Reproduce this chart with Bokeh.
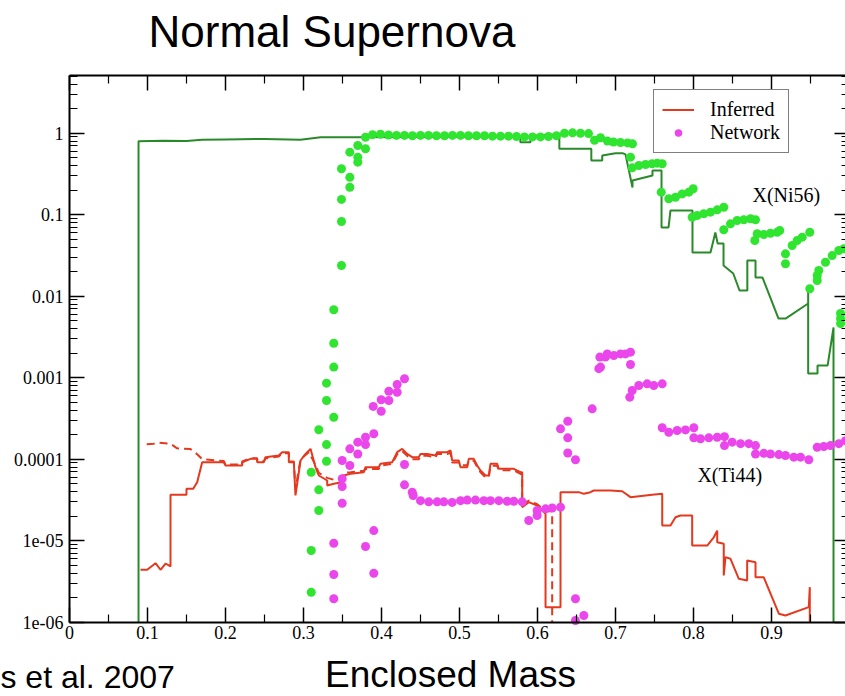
import json
from bokeh.plotting import figure
from bokeh.models import (FixedTicker, LinearAxis, LogAxis, Label, Legend, LegendItem,
                          CustomJSTickFormatter, Range1d)
from bokeh.embed import file_html
from bokeh.resources import INLINE

# ---------------- data ----------------
x_ticks = [0.0, 0.1, 0.2, 0.3, 0.4, 0.5, 0.6, 0.7, 0.8, 0.9]
x_tick_labels = ["0", "0.1", "0.2", "0.3", "0.4", "0.5", "0.6", "0.7", "0.8", "0.9"]
y_ticks = [1.0, 0.1, 0.01, 0.001, 0.0001, 1e-05, 1e-06]
y_tick_labels = ["1", "0.1", "0.01", "0.001", "0.0001", "1e-05", "1e-06"]

# Inferred X(Ni56) (dark green step line)
ni_inferred = [
    (0.0885, 1e-6), (0.0885, 0.798), (0.12, 0.81), (0.15, 0.80), (0.17, 0.83), (0.20, 0.84),
    (0.25, 0.85), (0.296, 0.83), (0.322, 0.89), (0.367, 0.89), (0.45, 0.90), (0.55, 0.91),
    (0.578, 0.90), (0.578, 0.776), (0.591, 0.776), (0.591, 0.93), (0.628, 0.964), (0.628, 0.644),
    (0.669, 0.644), (0.669, 0.462), (0.683, 0.462), (0.683, 0.532), (0.700, 0.569), (0.709, 0.569),
    (0.7128, 0.55), (0.7218, 0.216), (0.7218, 0.263), (0.7474, 0.303), (0.7474, 0.348),
    (0.759, 0.348), (0.759, 0.0697), (0.768, 0.0697), (0.7705, 0.1127), (0.7987, 0.1127),
    (0.7987, 0.0343), (0.8218, 0.0343), (0.828, 0.0605), (0.831, 0.0444), (0.8385, 0.0444),
    (0.8385, 0.0238), (0.851, 0.0190), (0.859, 0.01175), (0.869, 0.01175), (0.869, 0.0274),
    (0.8795, 0.0274), (0.8795, 0.01694), (0.8885, 0.01694), (0.909, 0.00532), (0.918, 0.00532),
    (0.947, 0.00813), (0.947, 0.0128), (0.947, 0.001128), (0.959, 0.001128), (0.959, 0.001413),
    (0.972, 0.001413), (0.9795, 0.00413), (0.9795, 1e-6),
]

# Network X(Ni56) (bright green dots)
ni_network = [
    (0.3099, 2.33e-6), (0.3099, 7.59e-6), (0.3099, 6.92e-5), (0.3196, 2.35e-5), (0.3196, 4.21e-5),
    (0.3196, 2.30e-4), (0.3295, 9.44e-5), (0.3295, 1.51e-4), (0.3295, 5.25e-4), (0.3295, 8.57e-4),
    (0.3388, 3.27e-4), (0.3388, 1.35e-3), (0.3388, 2.65e-3), (0.3388, 6.81e-3), (0.3487, 0.0238),
    (0.3487, 0.0826), (0.3487, 0.154), (0.3487, 0.366), (0.3594, 0.217), (0.3594, 0.288),
    (0.3594, 0.585), (0.3696, 0.441), (0.3696, 0.508), (0.3696, 0.706), (0.3795, 0.644),
    (0.3795, 0.893), (0.3885, 0.96), (0.3987, 0.97), (0.4090, 0.95), (0.4192, 0.94), (0.4295, 0.94),
    (0.4397, 0.93), (0.4500, 0.94), (0.4603, 0.94), (0.4705, 0.93), (0.4808, 0.93), (0.4910, 0.94),
    (0.5013, 0.94), (0.5115, 0.93), (0.5218, 0.93), (0.5321, 0.93), (0.5423, 0.92), (0.5526, 0.92),
    (0.5628, 0.92), (0.5731, 0.91), (0.5833, 0.90), (0.5936, 0.90), (0.6038, 0.90), (0.6141, 0.91),
    (0.6244, 0.93), (0.6346, 1.00), (0.6449, 1.01), (0.6551, 1.00), (0.6654, 0.99), (0.6731, 0.82),
    (0.6808, 0.88), (0.6897, 0.80), (0.6974, 0.78), (0.7064, 0.77), (0.7154, 0.76), (0.7218, 0.74),
    (0.7192, 0.508), (0.7214, 0.376), (0.7299, 0.402), (0.7385, 0.413), (0.7470, 0.422),
    (0.7535, 0.429), (0.7599, 0.422), (0.7586, 0.189), (0.7683, 0.157), (0.7769, 0.164),
    (0.7855, 0.180), (0.7940, 0.189), (0.7996, 0.208), (0.7983, 0.0931), (0.8047, 0.0977),
    (0.8132, 0.1026), (0.8218, 0.1074), (0.8304, 0.1148), (0.8388, 0.1236), (0.8388, 0.0653),
    (0.8474, 0.0773), (0.8560, 0.0849), (0.8645, 0.0866), (0.8731, 0.0891), (0.8795, 0.0866),
    (0.8786, 0.0482), (0.8817, 0.0583), (0.8901, 0.0571), (0.8987, 0.0593), (0.9073, 0.0610),
    (0.9106, 0.0640), (0.9179, 0.0250), (0.9179, 0.0331), (0.9265, 0.0419), (0.9329, 0.0482),
    (0.9394, 0.0530), (0.9491, 0.0610), (0.9491, 0.01233), (0.9586, 0.01795), (0.9586, 0.0156),
    (0.9606, 0.0207), (0.9692, 0.0261), (0.9778, 0.0315), (0.9863, 0.0364), (0.9927, 0.0382),
    (0.9885, 0.00614), (0.9885, 0.00532), (0.9885, 0.00462),
]

# Inferred X(Ti44) (red solid step line)
ti_inferred = [
    (0.0910, 4.40e-6), (0.0996, 4.40e-6), (0.1103, 5.30e-6), (0.1167, 4.40e-6), (0.1231, 5.25e-6),
    (0.1295, 4.83e-6), (0.1295, 3.66e-5), (0.1500, 3.66e-5), (0.1500, 4.34e-5), (0.1586, 4.34e-5),
    (0.1637, 5.22e-5), (0.1701, 9.18e-5), (0.1978, 9.18e-5), (0.2000, 8.37e-5), (0.2214, 8.37e-5),
    (0.2214, 9.18e-5), (0.2321, 1.01e-4), (0.2406, 1.01e-4), (0.2406, 9.18e-5), (0.2491, 9.18e-5),
    (0.2513, 1.06e-4), (0.2683, 1.11e-4), (0.2727, 1.22e-4), (0.2812, 1.22e-4), (0.2812, 9.18e-5),
    (0.2876, 9.18e-5), (0.2897, 3.59e-5), (0.2962, 9.64e-5), (0.3026, 1.16e-4), (0.3090, 1.34e-4),
    (0.3154, 7.98e-5), (0.3196, 6.31e-5), (0.3304, 5.48e-5), (0.3304, 4.76e-5), (0.3388, 4.99e-5),
    (0.3496, 5.22e-5), (0.3517, 6.31e-5), (0.3603, 6.62e-5), (0.3773, 6.92e-5), (0.3795, 7.98e-5),
    (0.3965, 7.98e-5), (0.3987, 8.78e-5), (0.4137, 9.18e-5), (0.4201, 1.22e-4), (0.4265, 1.34e-4),
    (0.4329, 1.16e-4), (0.4394, 1.06e-4), (0.4478, 1.06e-4), (0.4500, 1.16e-4), (0.4586, 1.16e-4),
    (0.4692, 1.11e-4), (0.4714, 1.22e-4), (0.4842, 1.22e-4), (0.4885, 1.28e-4), (0.4906, 9.64e-5),
    (0.4991, 9.64e-5), (0.5013, 7.98e-5), (0.5099, 7.98e-5), (0.5119, 1.01e-4), (0.5183, 1.01e-4),
    (0.5227, 8.37e-5), (0.5269, 7.26e-5), (0.5333, 6.31e-5), (0.5376, 6.31e-5), (0.5397, 8.78e-5),
    (0.5483, 8.78e-5), (0.5504, 7.62e-5), (0.5696, 7.62e-5), (0.5782, 6.92e-5), (0.5804, 6.92e-5),
    (0.5804, 2.58e-5), (0.5888, 2.97e-5), (0.5996, 2.70e-5), (0.6103, 2.14e-5), (0.6103, 1.53e-6),
    (0.6295, 1.53e-6), (0.6295, 3.94e-5), (0.6530, 3.94e-5), (0.6594, 3.76e-5), (0.6679, 3.94e-5),
    (0.6722, 4.13e-5), (0.6936, 4.13e-5), (0.7086, 4.05e-5), (0.7192, 3.42e-5), (0.7470, 3.66e-5),
    (0.7599, 3.76e-5), (0.7599, 1.54e-5), (0.7705, 1.54e-5), (0.7769, 1.94e-5), (0.7833, 2.04e-5),
    (0.7983, 2.04e-5), (0.7983, 8.73e-6), (0.8176, 8.73e-6), (0.8260, 1.10e-5), (0.8304, 1.33e-5),
    (0.8304, 9.59e-6), (0.8388, 9.16e-6), (0.8388, 3.74e-6), (0.8410, 6.28e-6), (0.8474, 6.00e-6),
    (0.8581, 3.41e-6), (0.8688, 3.25e-6), (0.8688, 5.71e-6), (0.8795, 5.45e-6), (0.8795, 3.56e-6),
    (0.8901, 3.56e-6), (0.9094, 1.27e-6), (0.9179, 1.21e-6), (0.9478, 1.53e-6), (0.9491, 2.69e-6),
    (0.9491, 1e-6),
]

# Second inferred X(Ti44) curve (red dashed)
ti_inferred_alt = [
    (0.0990, 1.53e-4), (0.1077, 1.55e-4), (0.1141, 1.60e-4), (0.1295, 1.55e-4), (0.1380, 1.36e-4),
    (0.1551, 1.33e-4), (0.1637, 1.15e-4), (0.1701, 1.00e-4), (0.1978, 9.5e-5), (0.2000, 8.6e-5),
    (0.2214, 8.6e-5), (0.2214, 9.4e-5), (0.2321, 1.03e-4), (0.2406, 1.03e-4), (0.2406, 9.4e-5),
    (0.2491, 9.4e-5), (0.2513, 1.02e-4), (0.2683, 1.08e-4), (0.2727, 1.18e-4), (0.2812, 1.18e-4),
    (0.2812, 9.4e-5), (0.2876, 9.4e-5), (0.2897, 4.3e-5), (0.2962, 1.00e-4), (0.3068, 1.22e-4),
    (0.3154, 8.5e-5), (0.3196, 6.8e-5), (0.3304, 5.9e-5), (0.3388, 5.6e-5), (0.3496, 5.8e-5),
    (0.3517, 6.8e-5), (0.3603, 6.9e-5), (0.3773, 7.2e-5), (0.3795, 7.6e-5), (0.3965, 7.6e-5),
    (0.3987, 8.3e-5), (0.4137, 8.8e-5), (0.4201, 1.15e-4), (0.4265, 1.26e-4), (0.4329, 1.10e-4),
    (0.4394, 1.00e-4), (0.4478, 1.00e-4), (0.4500, 1.10e-4), (0.4586, 1.10e-4), (0.4692, 1.05e-4),
    (0.4714, 1.16e-4), (0.4842, 1.16e-4), (0.4885, 1.20e-4), (0.4906, 9.1e-5), (0.4991, 9.1e-5),
    (0.5013, 8.4e-5), (0.5099, 8.4e-5), (0.5119, 9.6e-5), (0.5183, 9.6e-5), (0.5227, 8.0e-5),
    (0.5269, 6.9e-5), (0.5333, 6.0e-5), (0.5376, 6.0e-5), (0.5397, 8.3e-5), (0.5483, 8.3e-5),
    (0.5504, 7.3e-5), (0.5696, 7.3e-5), (0.5782, 6.6e-5), (0.5804, 6.6e-5), (0.5804, 2.75e-5),
    (0.5888, 3.1e-5), (0.5996, 2.8e-5), (0.6103, 2.3e-5), (0.6188, 2.3e-5), (0.6188, 1e-6),
]

# Network X(Ti44) (magenta dots)
ti_network = [
    (0.3388, 9.31e-6), (0.3388, 3.85e-6), (0.3388, 1.94e-6), (0.3496, 9.64e-5), (0.3496, 5.75e-5),
    (0.3496, 4.62e-5), (0.3496, 2.88e-5), (0.3594, 1.34e-4), (0.3594, 8.37e-5), (0.3696, 1.62e-4),
    (0.3696, 1.16e-4), (0.3795, 1.86e-4), (0.3795, 1.51e-4), (0.3795, 8.49e-6), (0.3901, 2.05e-4),
    (0.3901, 1.33e-5), (0.3901, 3.99e-6), (0.3894, 4.44e-4), (0.3996, 5.36e-4), (0.3996, 3.88e-4),
    (0.4094, 6.82e-4), (0.4094, 5.25e-4), (0.4201, 8.26e-4), (0.4201, 6.64e-4), (0.4295, 9.70e-4),
    (0.4295, 8.61e-5), (0.4295, 4.85e-5), (0.4394, 3.94e-5), (0.4406, 3.59e-5), (0.4500, 3.1e-5),
    (0.4606, 3.0e-5), (0.4714, 3.0e-5), (0.4799, 3.0e-5), (0.4906, 2.95e-5), (0.5013, 3.1e-5),
    (0.5099, 3.15e-5), (0.5205, 3.15e-5), (0.5312, 3.1e-5), (0.5397, 3.1e-5), (0.5504, 3.1e-5),
    (0.5611, 3.05e-5), (0.5696, 3.05e-5), (0.5804, 3.0e-5), (0.5888, 1.77e-5), (0.5996, 2.04e-5),
    (0.5996, 2.35e-5), (0.6103, 2.46e-5), (0.6188, 2.52e-5), (0.6295, 2.58e-5), (0.6295, 2.36e-4),
    (0.6388, 2.92e-4), (0.6388, 1.83e-4), (0.6388, 1.19e-4), (0.6487, 9.84e-5), (0.6487, 1.94e-6),
    (0.6487, 1.05e-6), (0.6594, 1.21e-6), (0.6701, 4.15e-4), (0.6786, 1.29e-3), (0.6799, 1.79e-3),
    (0.6808, 1.35e-3), (0.6872, 1.79e-3), (0.6894, 1.96e-3), (0.6978, 1.87e-3), (0.7064, 1.96e-3),
    (0.7128, 1.96e-3), (0.7192, 2.06e-3), (0.7192, 1.45e-3), (0.7183, 5.77e-4), (0.7214, 6.97e-4),
    (0.7299, 8.02e-4), (0.7406, 8.41e-4), (0.7491, 8.02e-4), (0.7599, 8.41e-4), (0.7599, 2.43e-4),
    (0.7683, 2.14e-4), (0.7791, 2.25e-4), (0.7897, 2.29e-4), (0.8004, 2.43e-4), (0.8004, 1.83e-4),
    (0.8090, 1.78e-4), (0.8196, 1.83e-4), (0.8304, 1.86e-4), (0.8397, 1.89e-4), (0.8397, 1.47e-4),
    (0.8496, 1.62e-4), (0.8603, 1.55e-4), (0.8709, 1.55e-4), (0.8795, 1.47e-4), (0.8795, 1.16e-4),
    (0.8901, 1.18e-4), (0.8987, 1.16e-4), (0.9094, 1.14e-4), (0.9179, 1.11e-4), (0.9286, 1.06e-4),
    (0.9372, 1.06e-4), (0.9478, 9.84e-5), (0.9586, 1.40e-4), (0.9671, 1.43e-4), (0.9756, 1.47e-4),
    (0.9863, 1.55e-4), (0.9949, 1.69e-4),
]

# ---------------- styling ----------------
GREEN_LINE = "#2a8a2a"
GREEN_DOT = "#2fe52f"
RED = "#e5391f"
MAGENTA = "#eb46eb"
SERIF = "Liberation Serif"
SANS = "Liberation Sans"

X_LO, X_HI = 0.0, 1.0          # axis box in data units
Y_LO, Y_HI = 1e-6, 5.1


def xs(pts):
    return [p[0] for p in pts]


def ys(pts):
    return [p[1] for p in pts]


# The frame spans the whole canvas; the axes are pinned (fixed_location) to the
# data box so that the title and bottom texts can sit inside the frame.
p = figure(width=845, height=696, x_range=Range1d(-0.08846, 0.99487),
           y_range=Range1d(1.2255e-7, 42.5), y_axis_type="log",
           output_backend="svg", toolbar_location=None, min_border=0)
p.title.visible = False
p.outline_line_color = None
p.grid.visible = False
p.background_fill_color = "white"
p.border_fill_color = "white"

x_minor = [0.05, 0.15, 0.25, 0.35, 0.45, 0.55, 0.65, 0.75, 0.85, 0.95]
y_minor = [m * 10.0 ** e for e in range(-6, 0) for m in range(2, 10)] + [2.0, 3.0, 4.0, 5.0]
xticker = FixedTicker(ticks=x_ticks + [1.0], minor_ticks=x_minor)
yticker = FixedTicker(ticks=y_ticks, minor_ticks=y_minor)

empty_fmt = CustomJSTickFormatter(code="return '';")
y_fmt = CustomJSTickFormatter(
    code="const labels = %s; const i = Math.round(-Math.log10(tick)); return labels[i];"
    % json.dumps(y_tick_labels))


def style_axis(ax, tin=15, tmin=8):
    ax.axis_line_color = "black"
    ax.axis_line_width = 2
    ax.major_tick_in = tin
    ax.major_tick_out = 0
    ax.minor_tick_in = tmin
    ax.minor_tick_out = 0
    ax.major_tick_line_color = "black"
    ax.major_tick_line_width = 1.5
    ax.minor_tick_line_color = "black"
    ax.minor_tick_line_width = 1.2
    ax.major_label_text_font = SERIF
    ax.major_label_text_font_size = "18px"
    ax.major_label_text_color = "black"


xa = p.xaxis[0]
xa.ticker = xticker
xa.major_label_overrides = dict(zip(x_ticks + [1.0], x_tick_labels + [""]))
style_axis(xa)
xa.major_label_standoff = 4
xa.fixed_location = Y_LO
xa.bounds = (X_LO, X_HI)

ya = p.yaxis[0]
ya.ticker = yticker
ya.formatter = y_fmt
style_axis(ya)
ya.major_label_standoff = 6
ya.fixed_location = X_LO
ya.bounds = (Y_LO, Y_HI)

top = LinearAxis(ticker=xticker, formatter=empty_fmt)
style_axis(top)
top.major_label_standoff = 0
top.fixed_location = Y_HI
top.bounds = (X_LO, X_HI)
p.add_layout(top, "above")

right = LogAxis(ticker=yticker, formatter=empty_fmt)
style_axis(right)
right.major_label_standoff = 0
right.fixed_location = X_HI
right.bounds = (Y_LO, Y_HI)
p.add_layout(right, "right")

# ---------------- glyphs ----------------
r_alt = p.line(xs(ti_inferred_alt), ys(ti_inferred_alt), line_color=RED, line_width=2,
               line_dash="8 5")
r_red = p.line(xs(ti_inferred), ys(ti_inferred), line_color=RED, line_width=2)
r_green = p.line(xs(ni_inferred), ys(ni_inferred), line_color=GREEN_LINE, line_width=2)
r_gdots = p.scatter(xs(ni_network), ys(ni_network), size=9, marker="circle",
                    fill_color=GREEN_DOT, line_color=None)
r_mag = p.scatter(xs(ti_network), ys(ti_network), size=9, marker="circle",
                  fill_color=MAGENTA, line_color=None)

legend = Legend(items=[LegendItem(label="Inferred", renderers=[r_red]),
                       LegendItem(label="Network", renderers=[r_mag])],
                location=(653, 543))
legend.border_line_color = "black"
legend.border_line_width = 1
legend.background_fill_color = "white"
legend.background_fill_alpha = 1
legend.label_text_font = SERIF
legend.label_text_font_size = "20px"
legend.label_text_color = "black"
legend.glyph_width = 32
legend.glyph_height = 19
legend.label_height = 19
legend.label_standoff = 16
legend.padding = 8
legend.spacing = 0
legend.margin = 0
p.add_layout(legend)

# ---------------- texts ----------------
p.add_layout(Label(x=0.8756, y=0.1758, text="X(Ni56)", text_font=SERIF, text_font_size="20px",
                   text_color="black", text_baseline="alphabetic", text_align="left"))
p.add_layout(Label(x=0.805, y=6.46e-5, text="X(Ti44)", text_font=SERIF, text_font_size="20px",
                   text_color="black", text_baseline="alphabetic", text_align="left"))
p.add_layout(Label(x=0.3365, y=17.7, text="Normal Supernova", text_font=SANS,
                   text_font_size="44px", text_color="black", text_baseline="alphabetic",
                   text_align="center"))
p.add_layout(Label(x=0.4885, y=2.25e-7, text="Enclosed Mass", text_font=SANS,
                   text_font_size="37px", text_color="black", text_baseline="alphabetic",
                   text_align="center"))
p.add_layout(Label(x=-0.0885, y=2.13e-7, text="s et al. 2007", text_font=SANS,
                   text_font_size="32px", text_color="black", text_baseline="alphabetic",
                   text_align="left"))

open("out.html", "w").write(file_html(p, INLINE))
